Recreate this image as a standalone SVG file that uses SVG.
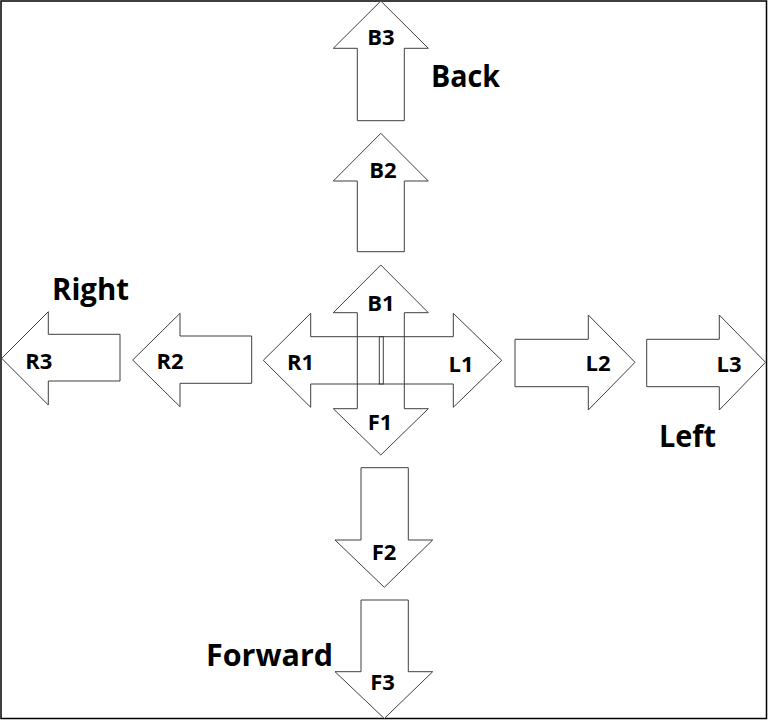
<svg xmlns="http://www.w3.org/2000/svg" width="768" height="722" viewBox="0 0 768 722">
<style>
.ar{fill:#ffffff;stroke:#3f3f3f;stroke-width:1;stroke-linejoin:miter}
.arn{fill:none;stroke:#3f3f3f;stroke-width:1}
.lb{font-family:"Open Sans","Liberation Sans",sans-serif;font-weight:bold;font-size:22px;fill:#000;text-anchor:middle}
.big{font-family:"Open Sans","Liberation Sans",sans-serif;font-weight:bold;font-size:30px;fill:#000}
</style>
<rect x="0" y="0" width="768" height="722" fill="#ffffff"/>
<rect x="1" y="1" width="765.5" height="717.5" fill="none" stroke="#000" stroke-width="1.5"/>
<g id="connectors"/>
<g id="B3">
<polygon class="ar" points="380.8,1 428.3,48.3 404.3,48.3 404.3,120.7 357.3,120.7 357.3,48.3 333.3,48.3"/>
<text class="lb" x="381" y="45">B3</text>
</g>
<g id="B2">
<polygon class="ar" points="380.8,133.3 428.3,181 404.3,181 404.3,251.7 357.3,251.7 357.3,181 333.3,181"/>
<text class="lb" x="383" y="178">B2</text>
</g>
<g id="B1-F1">
<polygon class="ar" points="380.8,265 428.3,312.7 404.3,312.7 404.3,408.7 428.3,408.7 380.8,455 333.3,408.7 357.3,408.7 357.3,312.7 333.3,312.7"/>
<text class="lb" x="381" y="311">B1</text>
<text class="lb" x="380" y="430">F1</text>
</g>
<g id="R1-L1">
<polygon class="arn" points="263.3,360.3 310.7,313.3 310.7,336.7 453.3,336.7 453.3,313.3 501.7,360.3 453.3,407.3 453.3,384 310.7,384 310.7,407.3"/>
<rect class="arn" x="379.3" y="336.7" width="4" height="47.3"/>
<text class="lb" x="300.5" y="370">R1</text>
<text class="lb" x="461" y="372">L1</text>
</g>
<g id="R3">
<polygon class="ar" points="1.7,358.3 48.3,311.7 48.3,334.3 120,334.3 120,381 48.3,381 48.3,405"/>
<text class="lb" x="38.7" y="369">R3</text>
</g>
<g id="R2">
<polygon class="ar" points="132.7,360 180,313.3 180,336 251.7,336 251.7,383.3 180,383.3 180,406.7"/>
<text class="lb" x="170" y="369">R2</text>
</g>
<g id="L2">
<polygon class="ar" points="635,362.3 588.3,315 588.3,339.3 515,339.3 515,386.7 588.3,386.7 588.3,410"/>
<text class="lb" x="598" y="371">L2</text>
</g>
<g id="L3">
<polygon class="ar" points="765.5,362.3 719.3,315 719.3,339.3 646.7,339.3 646.7,386.7 719.3,386.7 719.3,410"/>
<text class="lb" x="729" y="371.5">L3</text>
</g>
<g id="F2">
<polygon class="ar" points="384.3,587.3 432.7,540 408.3,540 408.3,467.7 361,467.7 361,540 335,540"/>
<text class="lb" x="384" y="560">F2</text>
</g>
<g id="F3">
<polygon class="ar" points="384.3,718.5 432.7,671.7 408.3,671.7 408.3,600 361,600 361,671.7 335,671.7"/>
<text class="lb" x="382.5" y="690">F3</text>
</g>
<g id="labels">
<text class="big" x="431" y="87" textLength="69" lengthAdjust="spacingAndGlyphs">Back</text>
<text class="big" x="52" y="300" textLength="77" lengthAdjust="spacingAndGlyphs">Right</text>
<text class="big" x="659" y="447" textLength="57" lengthAdjust="spacingAndGlyphs">Left</text>
<text class="big" x="206" y="666" textLength="127" lengthAdjust="spacingAndGlyphs">Forward</text>
</g>
</svg>
